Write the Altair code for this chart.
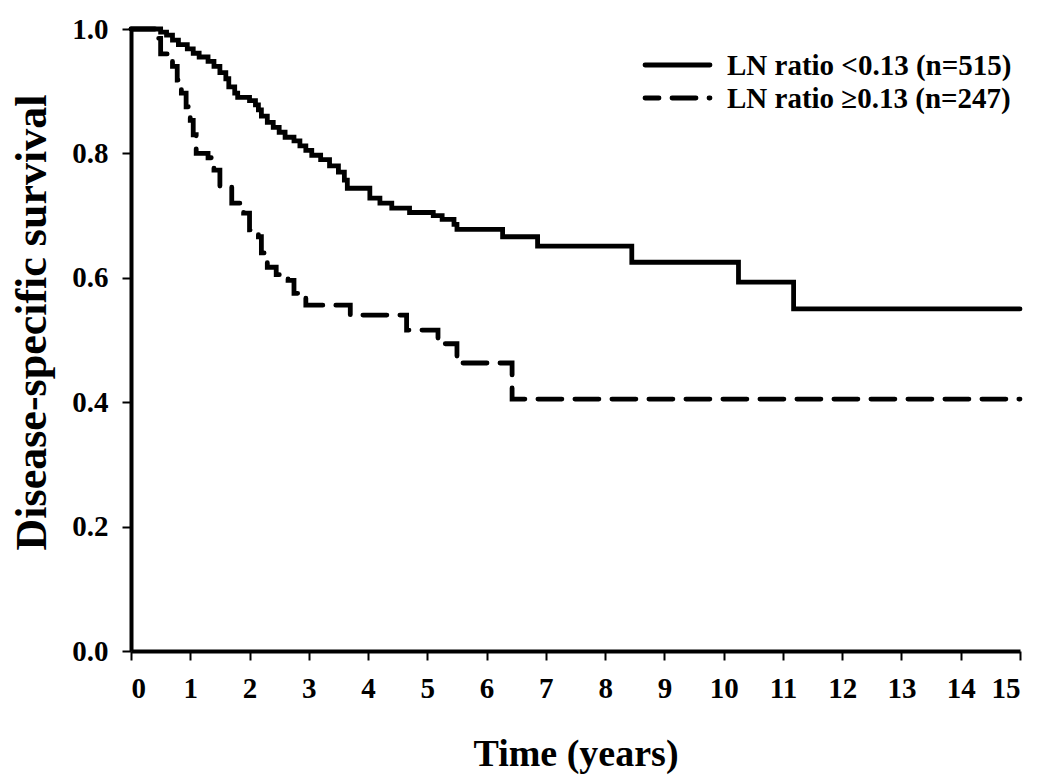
import altair as alt
import pandas as pd

groups = ["LN ratio <0.13 (n=515)", "LN ratio \u22650.13 (n=247)"]

low_t = [0, 0.5, 0.6, 0.7, 0.8, 0.95, 1.05, 1.15, 1.3, 1.4, 1.5, 1.6, 1.65, 1.75, 1.8,
         2.0, 2.1, 2.15, 2.2, 2.3, 2.4, 2.5, 2.6, 2.75, 2.85, 2.95, 3.05, 3.2, 3.35,
         3.5, 3.6, 3.65, 4.03, 4.2, 4.4, 4.7, 5.1, 5.25, 5.45, 5.5, 6.27, 6.86, 8.45,
         10.25, 11.18, 15]
low_s = [1.0, 0.995, 0.99, 0.982, 0.975, 0.968, 0.961, 0.955, 0.948, 0.94, 0.93, 0.92,
         0.907, 0.897, 0.89, 0.885, 0.878, 0.87, 0.86, 0.85, 0.842, 0.834, 0.826, 0.82,
         0.812, 0.805, 0.797, 0.79, 0.78, 0.77, 0.757, 0.744, 0.728, 0.72, 0.712, 0.705,
         0.70, 0.694, 0.686, 0.678, 0.666, 0.651, 0.625, 0.593, 0.55, 0.55]

high_t = [0, 0.45, 0.5, 0.7, 0.78, 0.85, 0.93, 1.0, 1.05, 1.1, 1.3, 1.4, 1.5, 1.7, 1.9,
          2.0, 2.15, 2.2, 2.3, 2.45, 2.65, 2.75, 2.95, 3.7, 4.65, 5.18, 5.5, 6.43, 15]
high_s = [1.0, 0.985, 0.96, 0.94, 0.918, 0.897, 0.875, 0.853, 0.83, 0.80, 0.793, 0.773,
          0.746, 0.72, 0.704, 0.677, 0.666, 0.64, 0.617, 0.605, 0.596, 0.575, 0.556, 0.54,
          0.516, 0.494, 0.463, 0.405, 0.405]

x_ticks = list(range(16))
y_ticks = [0.0, 0.2, 0.4, 0.6, 0.8, 1.0]

rows = []
for i, (t, s) in enumerate(zip(low_t, low_s)):
    rows.append({"t": t, "s": s, "group": groups[0], "i": i})
for i, (t, s) in enumerate(zip(high_t, high_s)):
    rows.append({"t": t, "s": s, "group": groups[1], "i": i})
df = pd.DataFrame(rows)

FONT = "Liberation Serif"
DASH = [24, 13]

curves = alt.Chart(df).mark_line(
    interpolate="step-after", color="black", strokeWidth=4.8, strokeCap="round"
).encode(
    x=alt.X("t:Q", scale=alt.Scale(domain=[0, 15], nice=False),
            axis=alt.Axis(values=x_ticks, title="Time (years)", format="d")),
    y=alt.Y("s:Q", scale=alt.Scale(domain=[0, 1], nice=False),
            axis=alt.Axis(values=y_ticks, format=".1f", title="Disease-specific survival",
                          titleX=-77, titleY=293)),
    strokeDash=alt.StrokeDash("group:N", scale=alt.Scale(domain=groups, range=[[1, 0], DASH]),
                              legend=None),
    order="i:Q",
)

# Manual legend (top right)
legend_layers = []
for k, (label, dash, ypos) in enumerate(zip(groups, [[1, 0], DASH], [36, 69])):
    ldf = pd.DataFrame({"label": [label]})
    rule = alt.Chart(ldf).mark_rule(
        color="black", strokeWidth=4.8, strokeCap="round", strokeDash=dash,
        strokeDashOffset=10 if k == 1 else 0,
    ).encode(x=alt.value(514), x2=alt.value(579), y=alt.value(ypos))
    text = alt.Chart(ldf).mark_text(
        align="left", baseline="middle", font=FONT, fontSize=29, fontWeight="bold",
        color="black", dy=1,
    ).encode(x=alt.value(596), y=alt.value(ypos), text="label:N")
    legend_layers += [rule, text]

chart = alt.layer(curves, *legend_layers).properties(
    width=889, height=622,
    autosize=alt.AutoSizeParams(type="none"),
    padding={"left": 123, "top": 21, "right": 22, "bottom": 124},
).configure_view(stroke=None).configure_axis(
    domainColor="black", domainWidth=4, tickColor="black", tickWidth=2, tickSize=9,
    labelFont=FONT, labelFontWeight="bold", labelColor="black", labelFontSize=29,
    titleFont=FONT, titleFontWeight="bold", titleColor="black",
    grid=False,
).configure_axisX(labelPadding=14, titlePadding=32, titleFontSize=38).configure_axisY(
    labelPadding=14, titleFontSize=44
)

chart.save("out.html", embed_options={"renderer": "svg", "actions": False})
